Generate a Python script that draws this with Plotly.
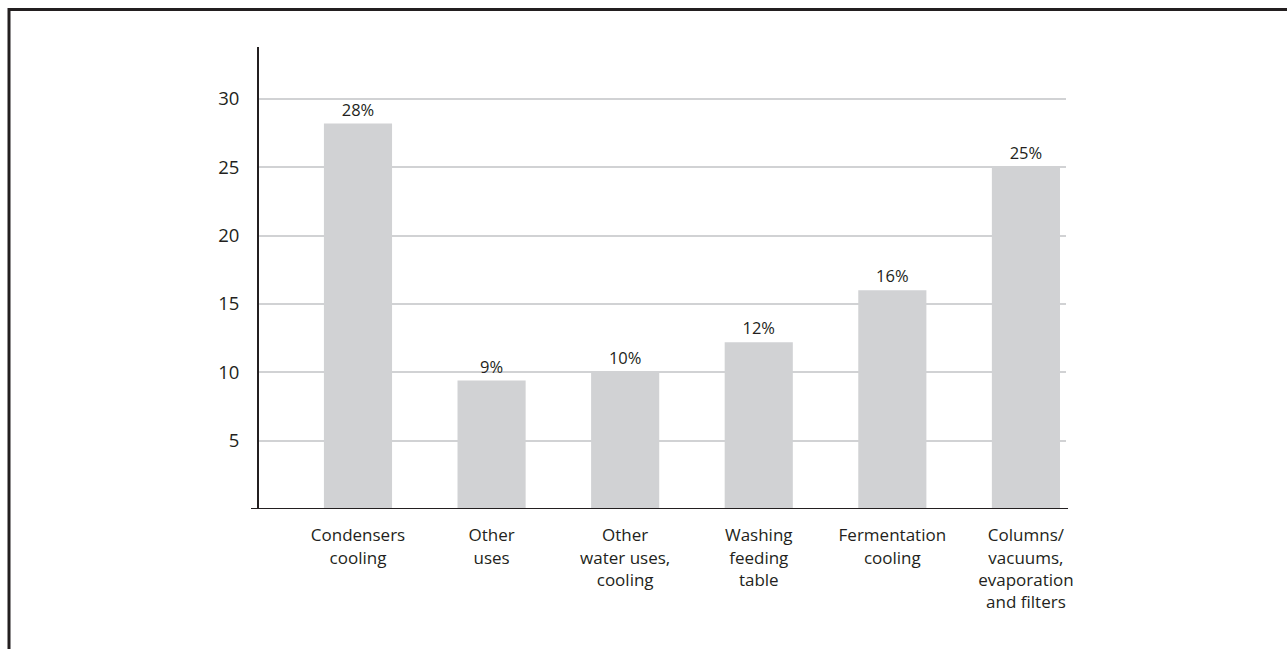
import plotly.graph_objects as go

categories = [
    "Condensers<br>cooling",
    "Other<br>uses",
    "Other<br>water uses,<br>cooling",
    "Washing<br>feeding<br>table",
    "Fermentation<br>cooling",
    "Columns/<br>vacuums,<br>evaporation<br>and filters",
]
values = [28.2, 9.4, 10.0, 12.2, 16.0, 25.0]
labels = ["28%", "9%", "10%", "12%", "16%", "25%"]
y_ticks = [5, 10, 15, 20, 25, 30]

ink = "#231f20"
grey = "#d1d2d4"
font_family = "Open Sans, Noto Sans, sans-serif"

fig = go.Figure()
fig.add_trace(go.Bar(
    x=list(range(len(categories))),
    y=values,
    text=labels,
    textposition="outside",
    textfont=dict(size=16.5, color=ink, family=font_family),
    marker=dict(color=grey, line=dict(width=0)),
    width=0.51,
    cliponaxis=False,
    hoverinfo="skip",
))

fig.update_layout(
    width=1287, height=649,
    margin=dict(l=259, r=221, t=47, b=140),
    paper_bgcolor="white", plot_bgcolor="white",
    showlegend=False,
    font=dict(family=font_family, color=ink, size=17),
    xaxis=dict(
        range=[-0.741, 5.30],
        tickmode="array",
        tickvals=list(range(len(categories))),
        ticktext=categories,
        tickfont=dict(size=17, color=ink),
        showgrid=False, zeroline=False, showline=False,
        ticks="outside", ticklen=11, tickcolor="rgba(0,0,0,0)",
    ),
    yaxis=dict(
        range=[0, 33.8],
        tickmode="array",
        tickvals=y_ticks,
        ticktext=[str(v) for v in y_ticks],
        tickfont=dict(size=18.5, color=ink),
        showgrid=True, gridcolor=grey, gridwidth=2,
        zeroline=False,
        showline=True, linecolor=ink, linewidth=2,
        ticks="outside", ticklen=14, tickcolor="rgba(0,0,0,0)",
    ),
)

# x axis baseline extending slightly beyond the plot area
fig.add_shape(type="line", xref="paper", yref="y",
              x0=-0.0099, x1=1.0025, y0=0, y1=0,
              line=dict(color=ink, width=2), layer="above")

# outer frame (bottom and right edges fall outside the canvas)
fig.add_shape(type="rect", xref="paper", yref="paper",
              x0=(9 - 259) / 807, x1=(1300 - 259) / 807,
              y0=(509 - 700) / 462, y1=(509 - 9.5) / 462,
              line=dict(color=ink, width=3), fillcolor="rgba(0,0,0,0)",
              layer="above")

fig.write_html("out.html")
